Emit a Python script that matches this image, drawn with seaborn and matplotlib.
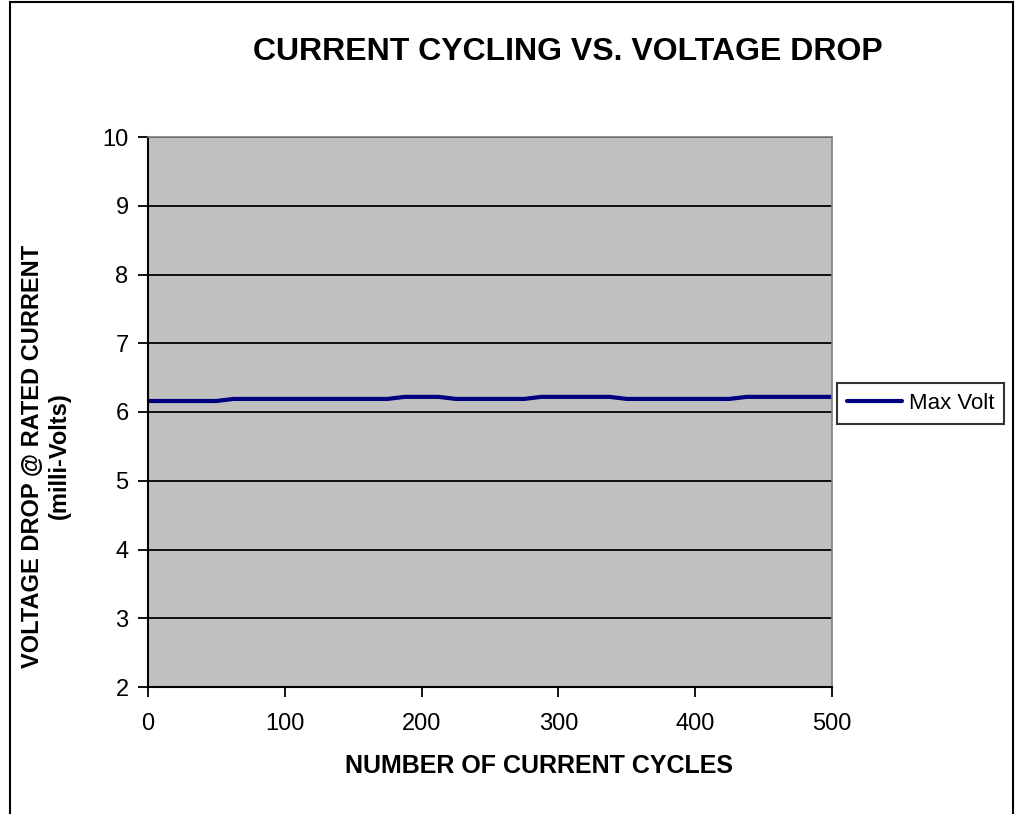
import numpy as np
import pandas as pd
import matplotlib
matplotlib.use("Agg")
import matplotlib.pyplot as plt
import seaborn as sns
from matplotlib.patches import Rectangle

# Data
cycles = [0, 12.5, 25, 37.5, 50, 62.5, 75, 87.5, 100, 112.5, 125, 137.5, 150, 162.5,
          175, 187.5, 200, 212.5, 225, 237.5, 250, 262.5, 275, 287.5, 300, 312.5,
          325, 337.5, 350, 362.5, 375, 387.5, 400, 412.5, 425, 437.5, 450, 462.5,
          475, 487.5, 500]
max_volt = [6.16, 6.16, 6.16, 6.16, 6.16,
            6.19, 6.19, 6.19, 6.19, 6.19, 6.19, 6.19, 6.19, 6.19, 6.19,
            6.22, 6.22, 6.22,
            6.19, 6.19, 6.19, 6.19, 6.19,
            6.22, 6.22, 6.22, 6.22, 6.22,
            6.19, 6.19, 6.19, 6.19, 6.19, 6.19, 6.19,
            6.22, 6.22, 6.22, 6.22, 6.22, 6.22]
x_ticks = [0, 100, 200, 300, 400, 500]
y_ticks = [2, 3, 4, 5, 6, 7, 8, 9, 10]

df = pd.DataFrame({"Cycles": cycles, "Max Volt": max_volt})

sns.set_style("white")
plt.rcParams['font.family'] = ['Liberation Sans', 'DejaVu Sans']
plt.rcParams['text.color'] = 'black'
plt.rcParams['axes.labelcolor'] = 'black'
plt.rcParams['xtick.color'] = 'black'
plt.rcParams['ytick.color'] = 'black'

fig = plt.figure(figsize=(10.15, 8.14), dpi=100)
ax = fig.add_axes([148 / 1015, 127 / 814, 684 / 1015, 550 / 814])
ax.set_facecolor('#C0C0C0')

sns.lineplot(data=df, x="Cycles", y="Max Volt", color='#000080', linewidth=3,
             label="Max Volt", ax=ax)

ax.set_xlim(0, 500)
ax.set_ylim(2, 10)
ax.set_xticks(x_ticks)
ax.set_yticks(y_ticks)
ax.yaxis.grid(True, color='black', linewidth=1.3)
ax.set_axisbelow(True)
ax.tick_params(axis='both', which='major', direction='out', length=7, width=1.3,
               color='black', labelcolor='black', labelsize=17,
               bottom=True, left=True)
ax.tick_params(axis='x', pad=12)
ax.tick_params(axis='y', pad=7)

for side in ['left', 'bottom']:
    ax.spines[side].set_color('black')
    ax.spines[side].set_linewidth(1.5)
for side in ['top', 'right']:
    ax.spines[side].set_color('#808080')
    ax.spines[side].set_linewidth(1.2)

ax.set_xlabel("NUMBER OF CURRENT CYCLES", fontsize=18, fontweight='bold')
ax.xaxis.set_label_coords((539 - 148) / 684, (687 - 766) / 550)
ax.xaxis.label.set_va('center')

ax.set_ylabel("VOLTAGE DROP @ RATED CURRENT\n(milli-Volts)", fontsize=17,
              fontweight='bold', linespacing=1.2)
ax.yaxis.set_label_coords((46 - 148) / 684, (687 - 456) / 550)
ax.yaxis.label.set_va('center')
ax.yaxis.label.set_ha('center')

fig.text(568 / 1015, 1 - 52 / 814, "CURRENT CYCLING VS. VOLTAGE DROP",
         fontsize=23, fontweight='bold', ha='center', va='center')

leg = ax.legend(loc='center left', bbox_to_anchor=(1.008, 0.515), frameon=True,
                fancybox=False, fontsize=16, handlelength=2.45, borderpad=0.45,
                borderaxespad=0, handletextpad=0.3)
leg.get_frame().set_edgecolor('black')
leg.get_frame().set_linewidth(1.5)
for t in leg.get_texts():
    t.set_color('black')

# outer chart border
fig.patches.append(Rectangle((10 / 1015, -0.01), 1003 / 1015, 1.01 - 2 / 814,
                             transform=fig.transFigure, fill=False,
                             edgecolor='black', linewidth=1.5))

fig.savefig("out.png", dpi=100)
